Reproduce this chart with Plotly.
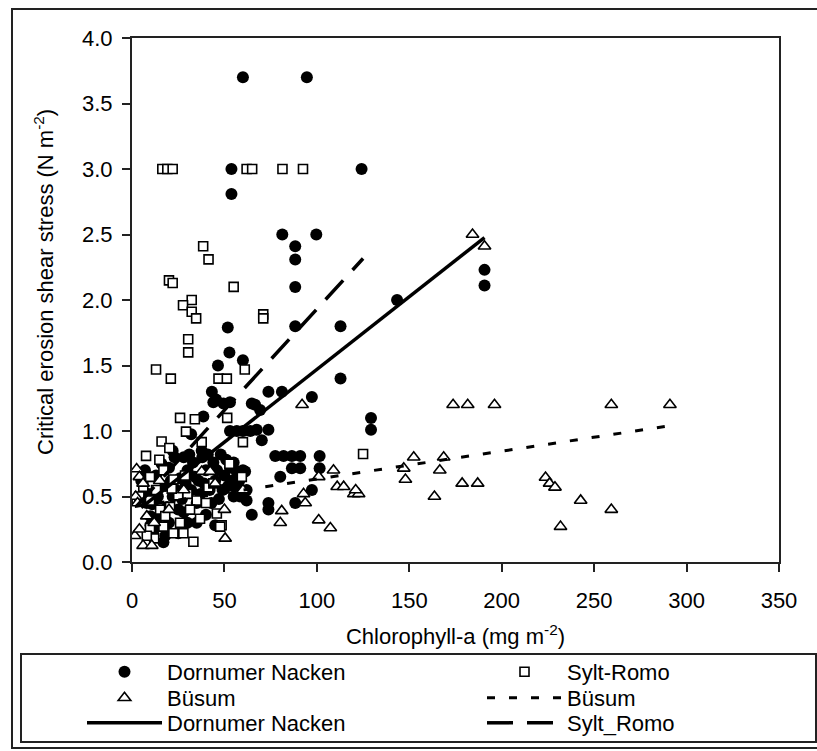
import plotly.graph_objects as go

# ---------------- data ----------------
dn_x = [60, 94.6, 53.8, 124.2, 53.8, 81.3, 99.7, 88.3, 88.3, 88.3, 143.4, 51.8, 88.3, 112.8,
        52.7, 46.5, 60, 112.8, 43.2, 73.8, 81.1, 97.3, 45.5, 53, 64.8, 66.6, 69.3, 38.6,
        129.3, 129.3, 53, 56.7, 60, 64, 67.5, 73.8, 70.2, 77.5, 82, 86.5, 91, 101.5, 86.5,
        91, 101.5, 80.2, 97.3, 88.3, 73.8, 73.8, 64.8, 190.7, 190.7, 44, 49.5,
        5, 7, 9, 11, 13, 15, 17, 18, 20, 22, 23, 25, 26, 28, 30, 30, 32, 33, 35, 36, 38,
        40, 40, 42, 44, 45, 47, 48, 50, 52, 53, 55, 55, 57, 58, 60, 62, 58.5, 62, 56.7,
        61.2, 25, 20, 32, 37.7, 12,
        8, 10, 14, 16, 19, 21, 24, 27, 29, 31, 34, 37, 39, 41, 43, 46, 49, 51, 54, 56,
        35, 28, 45, 22, 18, 10]
dn_y = [3.70, 3.70, 3.0, 3.0, 2.81, 2.50, 2.50, 2.41, 2.31, 2.10, 2.0, 1.79, 1.80, 1.80,
        1.60, 1.50, 1.54, 1.40, 1.30, 1.30, 1.30, 1.26, 1.24, 1.22, 1.21, 1.20, 1.16, 1.11,
        1.10, 1.01, 1.0, 1.0, 1.0, 1.0, 1.01, 1.01, 0.93, 0.81, 0.81, 0.81, 0.81, 0.81, 0.715,
        0.715, 0.715, 0.65, 0.55, 0.45, 0.45, 0.40, 0.36, 2.23, 2.11, 1.22, 1.21,
        0.62, 0.70, 0.52, 0.44, 0.66, 0.35, 0.15, 0.58, 0.72, 0.50, 0.80, 0.40, 0.64, 0.80,
        0.70, 0.30, 0.55, 0.76, 0.45, 0.62, 0.80, 0.70, 0.36, 0.55, 0.76, 0.62, 0.48, 0.82,
        0.66, 0.58, 0.72, 0.76, 0.50, 0.68, 0.62, 0.70, 0.55, 0.50, 0.47, 0.69, 0.69, 0.22,
        0.30, 0.975, 0.85, 0.25,
        0.45, 0.35, 0.50, 0.75, 0.42, 0.62, 0.55, 0.48, 0.60, 0.82, 0.65, 0.52, 0.60, 0.82,
        0.45, 0.70, 0.55, 0.78, 0.62, 0.58, 0.30, 0.38, 0.28, 0.85, 0.20, 0.28]

sr_x = [16.4, 19.1, 22, 62, 65, 81.4, 92.5, 38.5, 41.4, 20, 22, 55, 32.3, 27.6, 32.3, 34.7,
        71, 71, 30.4, 30.4, 61, 13, 21, 46.8, 51.3, 26, 34, 51.5, 29.2, 37.7, 60, 16, 20.2,
        7.6, 14.8, 52.7, 125,
        59.4, 22.4, 41.3, 25, 35, 45.9, 48.5, 36.8, 20.6, 15.2, 9.75, 6.1, 2.5, 28.7, 17,
        9.75, 21.5, 31.4, 26, 27.8, 22.4, 33.2, 17, 47.7, 9.75, 12, 8, 4, 40, 44, 30, 13, 18]
sr_y = [3.0, 3.0, 3.0, 3.0, 3.0, 3.0, 3.0, 2.41, 2.31, 2.15, 2.13, 2.10, 2.0, 1.96, 1.91, 1.86,
        1.89, 1.86, 1.70, 1.60, 1.47, 1.47, 1.40, 1.40, 1.40, 1.10, 1.09, 1.10, 0.995, 0.915,
        0.915, 0.92, 0.87, 0.81, 0.78, 0.75, 0.825,
        0.65, 0.63, 0.57, 0.51, 0.47, 0.37, 0.28, 0.33, 0.42, 0.40, 0.47, 0.575, 0.47, 0.66,
        0.70, 0.65, 0.56, 0.40, 0.30, 0.22, 0.22, 0.155, 0.27, 0.27, 0.26, 0.18, 0.20, 0.50,
        0.45, 0.60, 0.52, 0.55, 0.35]

bu_x = [184.2, 190.7, 173.7, 181.6, 196.1, 259.3, 291, 92, 152.4, 168.6, 166.5, 147, 147.9,
        178.6, 187, 163.6, 223.7, 225.9, 228.8, 242.7, 259.3, 231.8, 101, 109, 111, 114.5,
        120, 122.6, 121, 92.8, 93.7, 81, 80.2, 101, 107.3, 50.4, 37.7, 42.3, 2.5, 4, 6, 2,
        1.5, 4, 6, 10.7, 12, 8, 3, 20, 28, 45, 15, 50, 60]
bu_y = [2.50, 2.41, 1.20, 1.20, 1.20, 1.20, 1.20, 1.20, 0.80, 0.80, 0.70, 0.715, 0.63,
        0.60, 0.60, 0.50, 0.645, 0.60, 0.57, 0.47, 0.40, 0.27, 0.65, 0.70, 0.575, 0.575,
        0.52, 0.52, 0.55, 0.52, 0.45, 0.39, 0.30, 0.32, 0.26, 0.18, 0.69, 0.69, 0.71, 0.65,
        0.60, 0.50, 0.20, 0.25, 0.125, 0.125, 0.30, 0.35, 0.45, 0.40, 0.55, 0.60, 0.62,
        0.40, 0.55]

# linear trend lines (intercept, slope)
dn_fit = (0.36, 0.0111)
sr_fit = (0.388, 0.01543)
bu_fit = (0.421, 0.002126)

x_ticks = [0, 50, 100, 150, 200, 250, 300, 350]
y_ticks = [0.0, 0.5, 1.0, 1.5, 2.0, 2.5, 3.0, 3.5, 4.0]

FONT = "Arial, Liberation Sans, sans-serif"

# pixel geometry of the plot area (for positioning frame / legends)
W, H = 817, 751
PL, PR, PT, PB = 132, 779, 38, 562


def px_x(p):
    return (p - PL) / (PR - PL)


def px_y(p):
    return (PB - p) / (PB - PT)


def trend(xs, coef):
    x0, x1 = min(xs), max(xs)
    return [x0, x1], [coef[0] + coef[1] * x0, coef[0] + coef[1] * x1]


fig = go.Figure()

fig.add_trace(go.Scatter(x=dn_x, y=dn_y, mode="markers", name="Dornumer Nacken",
                         legend="legend",
                         marker=dict(symbol="circle", size=12, color="black",
                                     line=dict(width=0))))
fig.add_trace(go.Scatter(x=sr_x, y=sr_y, mode="markers", name="Sylt-Romo",
                         legend="legend2",
                         marker=dict(symbol="square", size=9, color="white",
                                     line=dict(width=1.6, color="black"))))
fig.add_trace(go.Scatter(x=bu_x, y=bu_y, mode="markers", name="Büsum",
                         legend="legend3",
                         marker=dict(symbol="triangle-up", size=11, color="white",
                                     line=dict(width=1.6, color="black"))))

bx, by = trend(bu_x, bu_fit)
fig.add_trace(go.Scatter(x=bx, y=by, mode="lines", name="Büsum", legend="legend4",
                         line=dict(color="black", width=3, dash="8px,14px")))
dx, dy = trend(dn_x, dn_fit)
fig.add_trace(go.Scatter(x=dx, y=dy, mode="lines", name="Dornumer Nacken",
                         legend="legend5",
                         line=dict(color="black", width=3.5)))
sx, sy = trend(sr_x, sr_fit)
fig.add_trace(go.Scatter(x=sx, y=sy, mode="lines", name="Sylt_Romo", legend="legend6",
                         line=dict(color="black", width=3.5, dash="26px,14px")))

# outer chart frame
fig.add_shape(type="rect", xref="paper", yref="paper",
              x0=px_x(12), x1=px_x(840), y0=px_y(748), y1=px_y(9),
              line=dict(color="#222", width=2), fillcolor="rgba(0,0,0,0)")
# legend frame
fig.add_shape(type="rect", xref="paper", yref="paper",
              x0=px_x(21), x1=px_x(816), y0=px_y(742), y1=px_y(654),
              line=dict(color="#222", width=2), fillcolor="rgba(0,0,0,0)")

# y axis title placed like the reference (slightly above centre)
fig.add_annotation(text="Critical erosion shear stress (N m<sup>-2</sup>)",
                   xref="paper", yref="paper", x=px_x(44), y=px_y(282),
                   textangle=-90, showarrow=False, xanchor="center", yanchor="middle",
                   font=dict(family=FONT, size=22, color="black"))

leg_common = dict(orientation="v", xanchor="left", yanchor="middle",
                  bgcolor="rgba(0,0,0,0)", borderwidth=0, itemwidth=75,
                  font=dict(family=FONT, size=22, color="black"))
col1, col2 = 82, 482
rows = [672, 698, 723]

fig.update_layout(
    width=W, height=H,
    margin=dict(l=PL, r=W - PR, t=PT, b=H - PB, autoexpand=False),
    paper_bgcolor="white", plot_bgcolor="white",
    font=dict(family=FONT, size=22, color="black"),
    showlegend=True,
    legend=dict(x=px_x(col1), y=px_y(rows[0]), **leg_common),
    legend2=dict(x=px_x(col2), y=px_y(rows[0]), **leg_common),
    legend3=dict(x=px_x(col1), y=px_y(rows[1]), **leg_common),
    legend4=dict(x=px_x(col2), y=px_y(rows[1]), **leg_common),
    legend5=dict(x=px_x(col1), y=px_y(rows[2]), **leg_common),
    legend6=dict(x=px_x(col2), y=px_y(rows[2]), **leg_common),
    xaxis=dict(range=[0, 350], tickvals=x_ticks, ticktext=[str(v) for v in x_ticks],
               showgrid=False, zeroline=False, showline=True, linecolor="#222",
               linewidth=2, mirror=True, ticks="outside", ticklen=8, tickwidth=2,
               tickcolor="#222", ticklabelstandoff=10,
               title=dict(text="Chlorophyll-a (mg m<sup>-2</sup>)", standoff=16,
                          font=dict(size=22))),
    yaxis=dict(range=[0, 4], tickvals=y_ticks, ticktext=[f"{v:.1f}" for v in y_ticks],
               showgrid=False, zeroline=False, showline=True, linecolor="#222",
               linewidth=2, mirror=True, ticks="outside", ticklen=8, tickwidth=2,
               tickcolor="#222", ticklabelstandoff=5),
)

fig.write_html("out.html", config={"displayModeBar": False},
               post_script="document.body.style.margin='0px';")
